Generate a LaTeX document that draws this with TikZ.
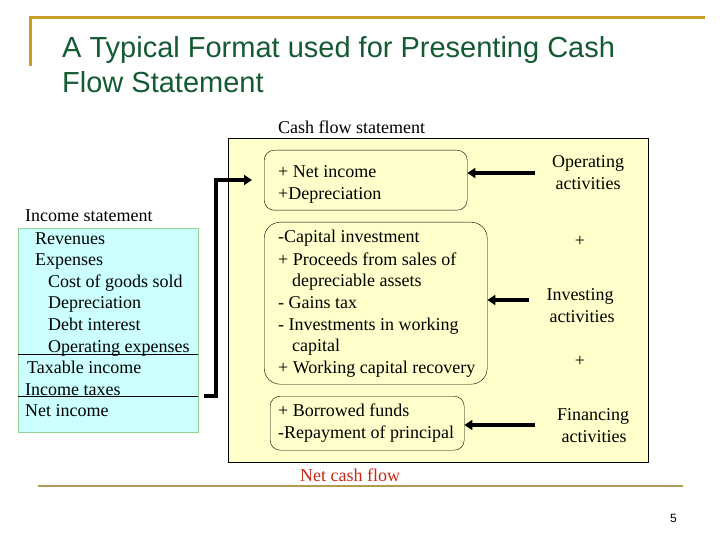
\documentclass[tikz,border=0pt]{standalone}
\usepackage{fontspec}
\setmainfont{Liberation Serif}
\newfontfamily\titlefont{Liberation Sans}
\usetikzlibrary{arrows.meta}
\definecolor{gold}{RGB}{200,160,40}
\definecolor{olive}{RGB}{175,155,85}
\definecolor{titlegreen}{RGB}{20,90,50}
\definecolor{paleyellow}{RGB}{255,255,204}
\definecolor{palecyan}{RGB}{204,255,255}
\definecolor{netred}{RGB}{200,40,20}
\tikzset{
  txt/.style={anchor=base west,inner sep=0pt,font=\fontsize{18}{21}\selectfont},
  ctxt/.style={anchor=base,inner sep=0pt,font=\fontsize{18}{21}\selectfont},
  rbox/.style={draw,thin,rounded corners=10pt},
  bigarrow/.style={line width=4pt,-{Triangle[length=8pt,width=10pt]}}
}
\begin{document}
\begin{tikzpicture}[x=1pt,y=-1pt]
\useasboundingbox (0,0) rectangle (720,540);
% frame lines
\draw[gold,line width=3pt] (30,66) -- (30,18) -- (705,18);
\draw[olive,line width=2.5pt] (38,486) -- (683,486);
\node[anchor=base west,inner sep=0pt,text=titlegreen,font=\titlefont\fontsize{29}{33}\selectfont] (t1) at (62,58) {A Typical Format used for Presenting Cash};
\node[anchor=base west,inner sep=0pt,text=titlegreen,font=\titlefont\fontsize{29}{33}\selectfont] (t2) at (62,93) {Flow Statement};
\node[anchor=base east,inner sep=0pt,font=\titlefont\fontsize{12}{14}\selectfont] (pg) at (677,522) {5};
% left box
\node[draw=green!40!gray!60,fill=palecyan,minimum width=180pt,minimum height=204pt,inner sep=0pt,anchor=north west] (inc) at (18,228) {};
\draw (18,354) -- (198,354);
\draw (18,396) -- (198,396);
\node[txt] (i0) at (25,222) {Income statement};
\node[txt] (i1) at (35,244) {Revenues};
\node[txt] (i2) at (35,265) {Expenses};
\node[txt] (i3) at (48,287) {Cost of goods sold};
\node[txt] (i4) at (48,308) {Depreciation};
\node[txt] (i5) at (48,330) {Debt interest};
\node[txt] (i6) at (48,352) {Operating expenses};
\node[txt] (i7) at (27,373) {Taxable income};
\node[txt] (i8) at (25,395) {Income taxes};
\node[txt] (i9) at (25,416) {Net income};
% main box
\node[txt] (cfs) at (278,134) {Cash flow statement};
\node[draw,fill=paleyellow,minimum width=420pt,minimum height=324pt,inner sep=0pt,anchor=north west] (cf) at (228,138) {};
\node[rbox,minimum width=203pt,minimum height=60pt,anchor=north west] (b1) at (264,150) {};
\node[rbox,minimum width=223pt,minimum height=162pt,anchor=north west,rounded corners=16pt] (b2) at (264,222) {};
\node[rbox,minimum width=194pt,minimum height=54pt,anchor=north west] (b3) at (270,396) {};
\node[txt] (a1) at (278,178) {+ Net income};
\node[txt] (a2) at (278,200) {+Depreciation};
\node[txt] (c1) at (278,243) {-Capital investment};
\node[txt] (c2) at (278,265) {+ Proceeds from sales of};
\node[txt] (c3) at (292,286) {depreciable assets};
\node[txt] (c4) at (278,308) {- Gains tax};
\node[txt] (c5) at (278,330) {- Investments in working};
\node[txt] (c6) at (292,351) {capital};
\node[txt] (c7) at (278,373) {+ Working capital recovery};
\node[txt] (f1) at (278,416) {+ Borrowed funds};
\node[txt] (f2) at (278,438) {-Repayment of principal};
% right labels
\node[ctxt] (op1) at (588,168) {Operating};
\node[ctxt] (op2) at (588,190) {activities};
\node[ctxt] (p1) at (580,246) {+};
\node[ctxt] (inv1) at (580,300) {Investing};
\node[ctxt] (inv2) at (582,322) {activities};
\node[ctxt] (p2) at (580,366) {+};
\node[ctxt] (fin1) at (593,420) {Financing};
\node[ctxt] (fin2) at (594,442) {activities};
\coordinate (e1) at (535,173);
\coordinate (e2) at (529,300);
\coordinate (e3) at (535,425);
\draw[bigarrow] (e1) -- (b1.east |- e1);
\draw[bigarrow] (e2) -- (b2.east |- e2);
\draw[bigarrow] (e3) -- (b3.east |- e3);
% connector from income statement
\coordinate (s) at (204,396);
\coordinate (e) at (252,180);
\draw[line width=4pt,-{Triangle[length=8pt,width=10pt]}] (s) -- (216,396) -- (216,180) -- (e);
\node[txt,text=netred] (ncf) at (300,481) {Net cash flow};
\end{tikzpicture}
\end{document}
